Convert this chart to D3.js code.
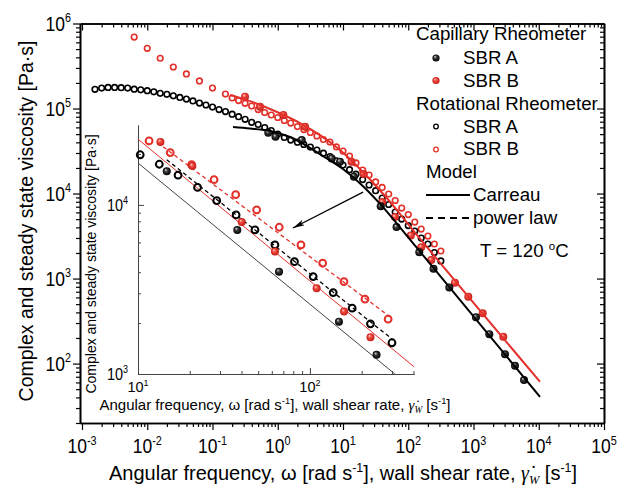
<!DOCTYPE html>
<html>
<head>
<meta charset="utf-8">
<script src="https://cdnjs.cloudflare.com/ajax/libs/d3/7.8.5/d3.min.js"></script>
<style>
  body { margin: 0; background: #fff; }
  svg { display: block; font-family: Arial, "Liberation Sans", sans-serif; }
  .axis path.domain { stroke: #000; stroke-width: 1.6px; }
  .axis line { stroke: #000; stroke-width: 1.2px; }
  .inset path.domain { stroke: #444; stroke-width: 1px; }
  .inset line { stroke: #444; stroke-width: 1px; }
</style>
</head>
<body>
<svg id="chart" width="621" height="487"></svg>
<script>
// ---- data ----
// rotational rheometer, SBR A: complex viscosity vs angular frequency
var rotA_x = [0.00158, 0.002, 0.00251, 0.00316, 0.00398, 0.00501, 0.00631, 0.00794, 0.01, 0.0126,
  0.0158, 0.02, 0.0251, 0.0316, 0.0398, 0.0501, 0.0631, 0.0794, 0.1, 0.126,
  0.158, 0.2, 0.251, 0.316, 0.398, 0.501, 0.631, 0.794, 1, 1.26,
  1.58, 2, 2.51, 3.16, 3.98, 5.01, 6.31, 7.94, 10, 12.6,
  15.8, 20, 25.1, 31.6, 39.8, 50.1, 63.1, 79.4, 100, 126,
  158, 200, 251, 316];
var rotA_eta = [1.68e5, 1.74e5, 1.77e5, 1.77e5, 1.76e5, 1.74e5, 1.69e5, 1.66e5, 1.62e5, 1.57e5,
  1.51e5, 1.47e5, 1.41e5, 1.35e5, 1.29e5, 1.23e5, 1.16e5, 1.10e5, 1.04e5, 9.73e4,
  9.2e4, 8.57e4, 8.01e4, 7.47e4, 6.88e4, 6.49e4, 5.98e4, 5.51e4, 5.01e4, 4.56e4,
  4.26e4, 4.02e4, 3.78e4, 3.52e4, 3.25e4, 2.98e4, 2.72e4, 2.43e4, 2.16e4, 1.91e4,
  1.69e4, 1.46e4, 1.26e4, 1.08e4, 8.85e3, 7.43e3, 6.06e3, 5.01e3, 4.2e3, 3.62e3,
  2.99e3, 2.55e3, 2.02e3, 1.61e3];

// rotational rheometer, SBR B
var rotB_x = [0.00631, 0.01, 0.0158, 0.0251, 0.0398, 0.0631, 0.1, 0.158,
  0.2, 0.251, 0.316, 0.398, 0.501, 0.631, 0.794, 1, 1.26, 1.58,
  2, 2.51, 3.16, 3.98, 5.01, 6.31, 7.94, 10, 12.6, 15.8,
  20, 25.1, 31.6, 39.8, 50.1, 63.1, 79.4, 100, 126, 158,
  200, 251, 316];
var rotB_eta = [6.93e5, 5.1e5, 3.9e5, 3.08e5, 2.55e5, 2.11e5, 1.74e5, 1.48e5,
  1.33e5, 1.24e5, 1.15e5, 1.07e5, 9.73e4, 8.97e4, 8.39e4, 7.84e4, 7.23e4, 6.75e4,
  6.14e4, 5.66e4, 5.22e4, 4.75e4, 4.32e4, 4.04e4, 3.53e4, 3.16e4, 2.76e4, 2.29e4,
  1.89e4, 1.65e4, 1.37e4, 1.18e4, 9.87e3, 8.28e3, 6.75e3, 5.66e3, 4.62e3, 3.82e3,
  3.16e3, 2.55e3, 2.11e3];

// capillary rheometer, SBR A / SBR B: steady viscosity vs wall shear rate
var capA_x = [0.716, 0.924, 2.33, 6.71, 9.0, 14.7, 37.8, 66.1, 147.5, 244, 426, 1091, 1746, 3039, 4325, 5946];
var capA_eta = [5.19e4, 4.65e4, 4.26e4, 2.59e4, 2.37e4, 1.58e4, 7.11e3, 4.03e3, 2.04e3, 1.3e3, 787, 350, 222, 129, 94.2, 64];
var capB_x = [0.315, 0.535, 1.22, 2.62, 13.5, 20.7, 40.1, 62.6, 109.4, 158, 225, 520, 832, 1383, 2864];
var capB_eta = [1.38e5, 1.05e5, 8.4e4, 6.11e4, 2.36e4, 1.7e4, 7.93e3, 5.3e3, 3.21e3, 2.34e3, 1.65e3, 893, 611, 390, 207];

// Carreau model curves
var carA_x = [0.206, 0.376, 0.71, 1.54, 4.93, 10.0, 20.3, 41.0, 83.2, 10450];
var carA_eta = [6.05e4, 5.82e4, 5.51e4, 4.62e4, 2.76e4, 1.94e4, 1.22e4, 6.93e3, 3.62e3, 40.6];
var carB_x = [0.185, 0.376, 0.975, 2.19, 4.45, 9.0, 18.2, 44.1, 118, 10450];
var carB_eta = [1.44e5, 1.22e5, 9.1e4, 6.75e4, 4.87e4, 3.25e4, 1.94e4, 9.35e3, 3.72e3, 61.1];

// inset (zoom on 10-400 s^-1)
var inRotA_x = [10.3, 13.3, 17.1, 22.2, 28.7, 37.2, 47.9, 62.6, 81.3, 104.4, 136.5, 176, 225, 300];
var inRotA_eta = [1.98e4, 1.74e4, 1.5e4, 1.27e4, 1.06e4, 8.73e3, 7.11e3, 5.8e3, 4.62e3, 3.77e3, 3.03e3, 2.45e3, 1.98e3, 1.53e3];
var inRotB_x = [11.6, 15.4, 20.5, 27.7, 37, 49, 66.3, 88.7, 118.6, 157.8, 209, 285];
var inRotB_eta = [2.39e4, 2.04e4, 1.73e4, 1.41e4, 1.15e4, 9.34e3, 7.38e3, 5.8e3, 4.52e3, 3.52e3, 2.77e3, 2.11e3];
var inCapA_x = [14.7, 37.8, 66.1, 147.5, 244];
var inCapA_eta = [1.58e4, 7.11e3, 4.03e3, 2.04e3, 1.3e3];
var inCapB_x = [13.5, 20.7, 40.1, 62.6, 109.4, 158, 225];
var inCapB_eta = [2.36e4, 1.7e4, 7.93e3, 5.3e3, 3.21e3, 2.34e3, 1.65e3];
// inset model lines: [x0, x1], [eta0, eta1]
var inCarA_x = [10, 312], inCarA_eta = [1.77e4, 1000];
var inCarB_x = [10, 403], inCarB_eta = [2.45e4, 1104];
var inPowA_x = [14.7, 305], inPowA_eta = [1.85e4, 1.59e3];
var inPowB_x = [14.0, 292], inPowB_eta = [2.21e4, 2.18e3];

// arrow from main curve to inset (data coords of main plot)
var arrow_x = [20.3, 1.71], arrow_eta = [1.04e4, 3.93e3];

var mainXTicks = [1e-3, 1e-2, 1e-1, 1e0, 1e1, 1e2, 1e3, 1e4, 1e5];
var mainYTicks = [1e2, 1e3, 1e4, 1e5, 1e6];
var insetXTicks = [10, 100];
var insetYTicks = [1e3, 1e4];

var RED = "#e3302a";

// ---- setup ----
var svg = d3.select("#chart");
var defs = svg.append("defs");

function sphere(id, light, mid, dark) {
  var g = defs.append("radialGradient").attr("id", id)
    .attr("cx", "50%").attr("cy", "50%").attr("r", "50%")
    .attr("fx", "35%").attr("fy", "30%");
  g.append("stop").attr("offset", "0%").attr("stop-color", light);
  g.append("stop").attr("offset", "40%").attr("stop-color", mid);
  g.append("stop").attr("offset", "100%").attr("stop-color", dark);
}
sphere("gBlack", "#e0e0e0", "#3a3a3a", "#000");
sphere("gRed", "#ffd6d2", "#ee4a40", "#c41d16");

defs.append("marker").attr("id", "arrowHead")
  .attr("viewBox", "0 0 12 6").attr("refX", 12).attr("refY", 3)
  .attr("markerWidth", 12).attr("markerHeight", 6)
  .attr("markerUnits", "userSpaceOnUse").attr("orient", "auto")
  .append("path").attr("d", "M0,0 L12,3 L0,6 L3,3 Z").attr("fill", "#000");

// rich text: parts = [[string, kind]]; kind: "sup", "sub", "gam"
function rich(text, parts, fs) {
  var shift = 0;
  parts.forEach(function(p) {
    var kind = p[1];
    var target = kind === "sup" ? -0.4 * fs : kind === "sub" ? 0.18 * fs : 0;
    var ts = text.append("tspan").text(p[0]).attr("dy", target - shift);
    shift = target;
    if (kind === "sup" || kind === "sub") ts.attr("font-size", fs * 0.62);
    if (kind === "gam" || kind === "sub")
      ts.attr("font-family", "'Liberation Serif', 'Times New Roman', serif").attr("font-style", "italic");
  });
}
// tick label "10^n" (sy = vertical stretch, the original glyphs look tall)
function tickLabel(px, py, v, fs, anchor, sy) {
  var t = svg.append("text").attr("transform", "translate(" + px + "," + py + ") scale(1," + sy + ")")
    .attr("text-anchor", anchor).attr("font-size", fs);
  rich(t, [["10"], [String(Math.round(Math.log10(v))), "sup"]], fs);
}
function minors(lo, hi) {
  var out = [];
  for (var e = lo; e < hi; e++) for (var m = 2; m <= 9; m++) out.push(m * Math.pow(10, e));
  return out;
}
function zip(xs, ys) { return xs.map(function(x, i) { return [x, ys[i]]; }); }

// ---- main plot ----
var x = d3.scaleLog().domain([9.32e-4, 1e5]).range([80, 604]);
var y = d3.scaleLog().domain([20, 1e6]).range([423, 23.5]);

function drawAxis(gen, tf, vals, size) {
  svg.append("g").attr("class", "axis")
    .attr("transform", tf)
    .call(gen.tickValues(vals).tickSize(size).tickSizeOuter(0).tickFormat(""));
}
var xMin = minors(-3, 5).filter(function(v) { return v > 9.32e-4; });
var yMin = minors(1, 6).filter(function(v) { return v >= 20; });

drawAxis(d3.axisBottom(x), "translate(0,423)", mainXTicks, 7);
drawAxis(d3.axisBottom(x), "translate(0,423)", xMin, 4);
drawAxis(d3.axisTop(x), "translate(0,23.5)", mainXTicks, -7);
drawAxis(d3.axisTop(x), "translate(0,23.5)", xMin, -4);
drawAxis(d3.axisLeft(y), "translate(80,0)", mainYTicks, 7);
drawAxis(d3.axisLeft(y), "translate(80,0)", yMin, 4);
drawAxis(d3.axisRight(y), "translate(604,0)", mainYTicks, -7);
drawAxis(d3.axisRight(y), "translate(604,0)", yMin, -4);

mainXTicks.forEach(function(v) { tickLabel(x(v), 453, v, 17.5, "middle", 1.18); });
mainYTicks.forEach(function(v) { tickLabel(71, y(v) + 7, v, 17.5, "end", 1.18); });

var xt = svg.append("text").attr("x", 343).attr("y", 480)
  .attr("text-anchor", "middle").attr("font-size", 20);
rich(xt, [["Angular frequency, \u03C9 [rad s"], ["-1", "sup"], ["], wall shear rate, "],
  ["\u03B3\u0307", "gam"], ["W", "sub"], [" [s"], ["-1", "sup"], ["]"]], 20);

svg.append("text").attr("transform", "translate(33,221) rotate(-90)")
  .attr("text-anchor", "middle").attr("font-size", 19.5)
  .text("Complex and steady state viscosity [Pa\u00B7s]");

var line = d3.line().x(function(d) { return x(d[0]); }).y(function(d) { return y(d[1]); })
  .curve(d3.curveMonotoneX);

function openPts(g, xs, ys, sx, sy, col, r, sw) {
  g.selectAll(null).data(zip(xs, ys)).enter().append("circle")
    .attr("cx", function(d) { return sx(d[0]); }).attr("cy", function(d) { return sy(d[1]); })
    .attr("r", r).attr("fill", "none").attr("stroke", col).attr("stroke-width", sw);
}
function fillPts(g, xs, ys, sx, sy, grad, r) {
  g.selectAll(null).data(zip(xs, ys)).enter().append("circle")
    .attr("cx", function(d) { return sx(d[0]); }).attr("cy", function(d) { return sy(d[1]); })
    .attr("r", r).attr("fill", "url(#" + grad + ")");
}

var gm = svg.append("g");
openPts(gm, rotB_x, rotB_eta, x, y, RED, 2.8, 1.6);
openPts(gm, rotA_x, rotA_eta, x, y, "#000", 2.8, 1.6);
fillPts(gm, capB_x, capB_eta, x, y, "gRed", 4);
fillPts(gm, capA_x, capA_eta, x, y, "gBlack", 4);
gm.append("path").datum(zip(carB_x, carB_eta)).attr("d", line)
  .attr("fill", "none").attr("stroke", RED).attr("stroke-width", 2);
gm.append("path").datum(zip(carA_x, carA_eta)).attr("d", line)
  .attr("fill", "none").attr("stroke", "#000").attr("stroke-width", 2);

gm.append("line")
  .attr("x1", x(arrow_x[0])).attr("y1", y(arrow_eta[0]))
  .attr("x2", x(arrow_x[1])).attr("y2", y(arrow_eta[1]))
  .attr("stroke", "#000").attr("stroke-width", 1.3).attr("marker-end", "url(#arrowHead)");

// ---- inset ----
var xi = d3.scaleLog().domain([10, 403]).range([138, 414]);
var yi = d3.scaleLog().domain([1000, 29700]).range([374, 125]);

function drawInset(gen, tf, vals, size) {
  svg.append("g").attr("class", "inset").attr("transform", tf)
    .call(gen.tickValues(vals).tickSize(size).tickSizeOuter(0).tickFormat(""));
}
drawInset(d3.axisBottom(xi), "translate(0,374)", insetXTicks, -6);
drawInset(d3.axisBottom(xi), "translate(0,374)", minors(1, 3).filter(function(v) { return v <= 403; }), -3);
drawInset(d3.axisLeft(yi), "translate(138,0)", insetYTicks, -6);
drawInset(d3.axisLeft(yi), "translate(138,0)", minors(3, 5).filter(function(v) { return v <= 29700; }), -3);

insetXTicks.forEach(function(v) { tickLabel(xi(v), 392, v, 14.5, "middle", 1); });
insetYTicks.forEach(function(v) { tickLabel(128, yi(v) + 6, v, 14.5, "end", 1.18); });

var ixt = svg.append("text").attr("x", 275).attr("y", 410)
  .attr("text-anchor", "middle").attr("font-size", 15);
rich(ixt, [["Angular frequency, \u03C9 [rad s"], ["-1", "sup"], ["], wall shear rate, "],
  ["\u03B3\u0307", "gam"], ["W", "sub"], [" [s"], ["-1", "sup"], ["]"]], 15);
svg.append("text").attr("transform", "translate(96,264) rotate(-90)")
  .attr("text-anchor", "middle").attr("font-size", 14)
  .text("Complex and steady state viscosity [Pa\u00B7s]");

var iline = d3.line().x(function(d) { return xi(d[0]); }).y(function(d) { return yi(d[1]); });
var gi = svg.append("g");
gi.append("path").datum(zip(inCarA_x, inCarA_eta)).attr("d", iline)
  .attr("fill", "none").attr("stroke", "#444").attr("stroke-width", 1);
gi.append("path").datum(zip(inCarB_x, inCarB_eta)).attr("d", iline)
  .attr("fill", "none").attr("stroke", RED).attr("stroke-width", 1);
gi.append("path").datum(zip(inPowA_x, inPowA_eta)).attr("d", iline)
  .attr("fill", "none").attr("stroke", "#000").attr("stroke-width", 1.3).attr("stroke-dasharray", "4,3");
gi.append("path").datum(zip(inPowB_x, inPowB_eta)).attr("d", iline)
  .attr("fill", "none").attr("stroke", RED).attr("stroke-width", 1.3).attr("stroke-dasharray", "4,3");
openPts(gi, inRotB_x, inRotB_eta, xi, yi, RED, 3.4, 2);
openPts(gi, inRotA_x, inRotA_eta, xi, yi, "#000", 3.4, 2);
fillPts(gi, inCapB_x, inCapB_eta, xi, yi, "gRed", 4);
fillPts(gi, inCapA_x, inCapA_eta, xi, yi, "gBlack", 4);

// ---- legend ----
var lg = svg.append("g").attr("font-size", 18.7);
function ltext(tx, ty, s) { return lg.append("text").attr("x", tx).attr("y", ty).text(s); }
ltext(416, 40, "Capillary Rheometer");
lg.append("circle").attr("cx", 436).attr("cy", 58).attr("r", 3.6).attr("fill", "url(#gBlack)");
ltext(463, 64, "SBR A");
lg.append("circle").attr("cx", 436).attr("cy", 80.5).attr("r", 3.6).attr("fill", "url(#gRed)");
ltext(463, 87, "SBR B");
ltext(416, 110, "Rotational Rheometer");
lg.append("circle").attr("cx", 436).attr("cy", 126.5).attr("r", 2.3).attr("fill", "none").attr("stroke", "#000").attr("stroke-width", 1.3);
ltext(463, 132.5, "SBR A");
lg.append("circle").attr("cx", 436).attr("cy", 149.5).attr("r", 2.3).attr("fill", "none").attr("stroke", RED).attr("stroke-width", 1.3);
ltext(463, 155, "SBR B");
ltext(426, 178, "Model");
lg.append("line").attr("x1", 426).attr("x2", 470).attr("y1", 195).attr("y2", 195).attr("stroke", "#000").attr("stroke-width", 2);
ltext(473, 201, "Carreau");
lg.append("line").attr("x1", 426).attr("x2", 470).attr("y1", 218).attr("y2", 218).attr("stroke", "#000").attr("stroke-width", 2).attr("stroke-dasharray", "7,5");
ltext(473, 224, "power law");
var tt = lg.append("text").attr("x", 480).attr("y", 257);
rich(tt, [["T = 120 "], ["o", "sup"], ["C"]], 18.7);
</script>
</body>
</html>
